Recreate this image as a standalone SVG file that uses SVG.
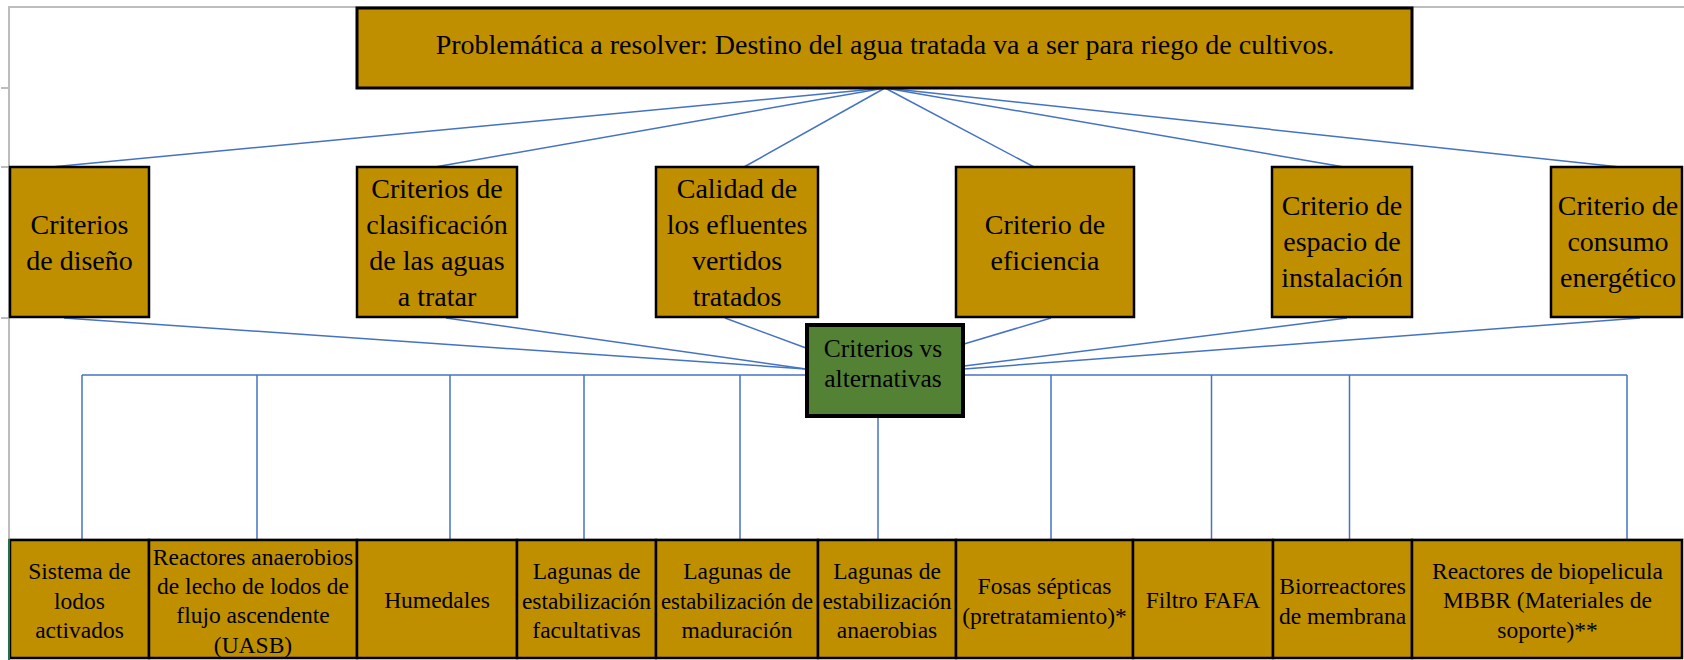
<svg xmlns="http://www.w3.org/2000/svg" width="1684" height="660" viewBox="0 0 1684 660">
<style>
.box{fill:#BF8F00;stroke:#000;stroke-width:2.5}
.top{fill:#BF8F00;stroke:#000;stroke-width:3}
.green{fill:#548235;stroke:#000;stroke-width:4}
.t{font-family:"Liberation Serif","Times New Roman",serif;fill:#000;text-anchor:middle}
.big{font-size:28px}
.mid{font-size:25.5px}
.sm{font-size:23.5px}
.conn line{stroke:#4472C4;stroke-width:1.5;fill:none}
.grid{stroke:#BDBDBD;stroke-width:2}
</style>
<rect x="0" y="0" width="1684" height="660" fill="#fff"/>
<g id="sheet">
<line class="grid" x1="8" y1="7" x2="1684" y2="7"/>
<line class="grid" x1="9" y1="7" x2="9" y2="540"/>
<line class="grid" x1="1" y1="88" x2="9" y2="88"/>
<line class="grid" x1="1" y1="167" x2="9" y2="167"/>
<line class="grid" x1="1" y1="318" x2="9" y2="318"/>
<line x1="9" y1="539" x2="1684" y2="539" stroke="#BDBDBD" stroke-width="1"/>
</g>
<g id="connectors" class="conn">
<line x1="885" y1="88" x2="51" y2="167"/>
<line x1="885" y1="88" x2="435" y2="167"/>
<line x1="885" y1="88" x2="744" y2="167"/>
<line x1="885" y1="88" x2="1034" y2="167"/>
<line x1="885" y1="88" x2="1344" y2="167"/>
<line x1="885" y1="88" x2="1620" y2="167"/>
<line x1="64" y1="318" x2="806" y2="369"/>
<line x1="446" y1="318" x2="806" y2="369"/>
<line x1="725" y1="318" x2="806" y2="348"/>
<line x1="1051" y1="318" x2="964" y2="344"/>
<line x1="1347" y1="318" x2="964" y2="366"/>
<line x1="1640" y1="318" x2="964" y2="369"/>
<line x1="82" y1="375" x2="1627" y2="375"/>
<line x1="82" y1="375" x2="82" y2="542"/>
<line x1="257" y1="375" x2="257" y2="542"/>
<line x1="450" y1="375" x2="450" y2="542"/>
<line x1="584" y1="375" x2="584" y2="542"/>
<line x1="740" y1="375" x2="740" y2="542"/>
<line x1="878" y1="417" x2="878" y2="542"/>
<line x1="1051" y1="375" x2="1051" y2="542"/>
<line x1="1211.5" y1="375" x2="1211.5" y2="542"/>
<line x1="1349.5" y1="375" x2="1349.5" y2="542"/>
<line x1="1627" y1="375" x2="1627" y2="542"/>
</g>
<g id="problema">
<rect class="top" x="357" y="8" width="1055" height="80"/>
<text class="t big" x="885" y="54">Problemática a resolver: Destino del agua tratada va a ser para riego de cultivos.</text>
</g>
<g id="c-diseno">
<rect class="box" x="10" y="167" width="139" height="150"/>
<text class="t big" x="79.5" y="234">Criterios</text>
<text class="t big" x="79.5" y="270">de diseño</text>
</g>
<g id="c-clasificacion">
<rect class="box" x="357" y="167" width="160" height="150"/>
<text class="t big" x="437" y="198">Criterios de</text>
<text class="t big" x="437" y="234">clasificación</text>
<text class="t big" x="437" y="270">de las aguas</text>
<text class="t big" x="437" y="306">a tratar</text>
</g>
<g id="c-calidad">
<rect class="box" x="656" y="167" width="162" height="150"/>
<text class="t big" x="737" y="198">Calidad de</text>
<text class="t big" x="737" y="234">los efluentes</text>
<text class="t big" x="737" y="270">vertidos</text>
<text class="t big" x="737" y="306">tratados</text>
</g>
<g id="c-eficiencia">
<rect class="box" x="956" y="167" width="178" height="150"/>
<text class="t big" x="1045" y="234">Criterio de</text>
<text class="t big" x="1045" y="270">eficiencia</text>
</g>
<g id="c-espacio">
<rect class="box" x="1272" y="167" width="140" height="150"/>
<text class="t big" x="1342" y="215">Criterio de</text>
<text class="t big" x="1342" y="251">espacio de</text>
<text class="t big" x="1342" y="287">instalación</text>
</g>
<g id="c-consumo">
<rect class="box" x="1551" y="167" width="131" height="150"/>
<text class="t big" x="1618" y="215">Criterio de</text>
<text class="t big" x="1618" y="251">consumo</text>
<text class="t big" x="1618" y="287">energético</text>
</g>
<g id="criterios-vs">
<rect class="green" x="807" y="325" width="156" height="91"/>
<text class="t mid" x="883" y="357">Criterios vs</text>
<text class="t mid" x="883" y="387">alternativas</text>
</g>
<g id="a1">
<rect class="box" x="10" y="540" width="139" height="118"/>
<text class="t sm" x="79.5" y="579">Sistema de</text>
<text class="t sm" x="79.5" y="609">lodos</text>
<text class="t sm" x="79.5" y="638">activados</text>
</g>
<g id="a2">
<rect class="box" x="149" y="540" width="208" height="118"/>
<text class="t sm" x="253" y="565">Reactores anaerobios</text>
<text class="t sm" x="253" y="594">de lecho de lodos de</text>
<text class="t sm" x="253" y="623">flujo ascendente</text>
<text class="t sm" x="253" y="653">(UASB)</text>
</g>
<g id="a3">
<rect class="box" x="357" y="540" width="160" height="118"/>
<text class="t sm" x="437" y="608">Humedales</text>
</g>
<g id="a4">
<rect class="box" x="517" y="540" width="139" height="118"/>
<text class="t sm" x="586.5" y="579">Lagunas de</text>
<text class="t sm" x="586.5" y="609">estabilización</text>
<text class="t sm" x="586.5" y="638">facultativas</text>
</g>
<g id="a5">
<rect class="box" x="656" y="540" width="162" height="118"/>
<text class="t sm" x="737" y="579">Lagunas de</text>
<text class="t sm" x="737" y="609" textLength="152" lengthAdjust="spacingAndGlyphs">estabilización de</text>
<text class="t sm" x="737" y="638">maduración</text>
</g>
<g id="a6">
<rect class="box" x="818" y="540" width="138" height="118"/>
<text class="t sm" x="887" y="579">Lagunas de</text>
<text class="t sm" x="887" y="609">estabilización</text>
<text class="t sm" x="887" y="638">anaerobias</text>
</g>
<g id="a7">
<rect class="box" x="956" y="540" width="177" height="118"/>
<text class="t sm" x="1044.5" y="594">Fosas sépticas</text>
<text class="t sm" x="1044.5" y="624">(pretratamiento)*</text>
</g>
<g id="a8">
<rect class="box" x="1133" y="540" width="140" height="118"/>
<text class="t sm" x="1203" y="608">Filtro FAFA</text>
</g>
<g id="a9">
<rect class="box" x="1273" y="540" width="139" height="118"/>
<text class="t sm" x="1342.5" y="594">Biorreactores</text>
<text class="t sm" x="1342.5" y="624">de membrana</text>
</g>
<g id="a10">
<rect class="box" x="1412" y="540" width="270" height="118"/>
<text class="t sm" x="1547.5" y="579">Reactores de biopelicula</text>
<text class="t sm" x="1547.5" y="608">MBBR (Materiales de</text>
<text class="t sm" x="1547.5" y="638">soporte)**</text>
</g>
<line x1="9" y1="539" x2="9" y2="660" stroke="#217346" stroke-width="2"/>
</svg>
